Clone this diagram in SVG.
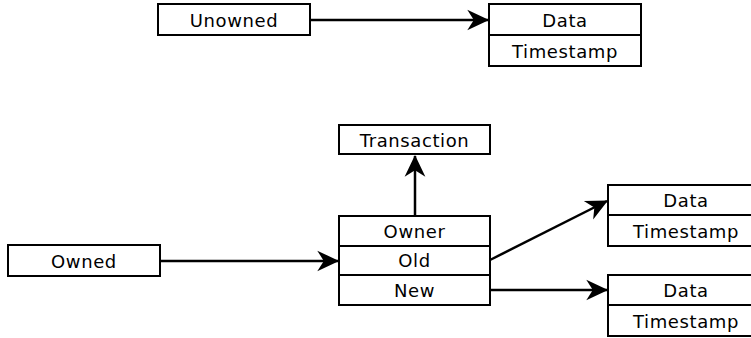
<svg xmlns="http://www.w3.org/2000/svg" width="751" height="338" viewBox="0 0 751 338">
  <style>
    .box { fill: #ffffff; stroke: #000000; stroke-width: 2; }
    .lbl { font-family: "DejaVu Sans", sans-serif; font-size: 18px; letter-spacing: 0.6px; fill: #000000; text-anchor: middle; }
    .edge { fill: none; stroke: #000000; stroke-width: 2.5; marker-end: url(#head); }
  </style>
  <defs>
    <marker id="head" markerUnits="userSpaceOnUse" markerWidth="24" markerHeight="24" viewBox="-20 -11 22 22" refX="0" refY="0" orient="auto">
      <path d="M1,0 L-19,-9.5 L-13,0 L-19,9.5 Z" fill="#000000"/>
    </marker>
  </defs>
  <rect width="751" height="338" fill="#ffffff"/>

  <g id="connectors">
    <line class="edge" x1="310" y1="20" x2="488" y2="20"/>
    <line class="edge" x1="160" y1="261" x2="338" y2="261"/>
    <line class="edge" x1="415" y1="216" x2="415" y2="156"/>
    <line class="edge" x1="490" y1="260" x2="607" y2="201"/>
    <line class="edge" x1="490" y1="290" x2="607" y2="290"/>
  </g>

  <g id="unowned">
    <rect class="box" x="158" y="4" width="152" height="31"/>
    <text class="lbl" x="234" y="27">Unowned</text>
  </g>

  <g id="unowned-value">
    <rect class="box" x="489" y="4" width="152" height="31"/>
    <rect class="box" x="489" y="35" width="152" height="31"/>
    <text class="lbl" x="565" y="27">Data</text>
    <text class="lbl" x="565" y="58">Timestamp</text>
  </g>

  <g id="transaction">
    <rect class="box" x="339" y="125" width="151" height="29"/>
    <text class="lbl" x="414.5" y="147">Transaction</text>
  </g>

  <g id="owned">
    <rect class="box" x="8" y="245" width="152" height="31"/>
    <text class="lbl" x="84" y="268">Owned</text>
  </g>

  <g id="owned-record">
    <rect class="box" x="339" y="216" width="151" height="30"/>
    <rect class="box" x="339" y="246" width="151" height="29"/>
    <rect class="box" x="339" y="275" width="151" height="30"/>
    <text class="lbl" x="414.5" y="238">Owner</text>
    <text class="lbl" x="414.5" y="267">Old</text>
    <text class="lbl" x="414.5" y="297">New</text>
  </g>

  <g id="old-value">
    <rect class="box" x="608" y="185" width="160" height="30"/>
    <rect class="box" x="608" y="215" width="160" height="31"/>
    <text class="lbl" x="686" y="207">Data</text>
    <text class="lbl" x="686" y="238">Timestamp</text>
  </g>

  <g id="new-value">
    <rect class="box" x="608" y="275" width="160" height="30"/>
    <rect class="box" x="608" y="305" width="160" height="31"/>
    <text class="lbl" x="686" y="297">Data</text>
    <text class="lbl" x="686" y="328">Timestamp</text>
  </g>
</svg>
